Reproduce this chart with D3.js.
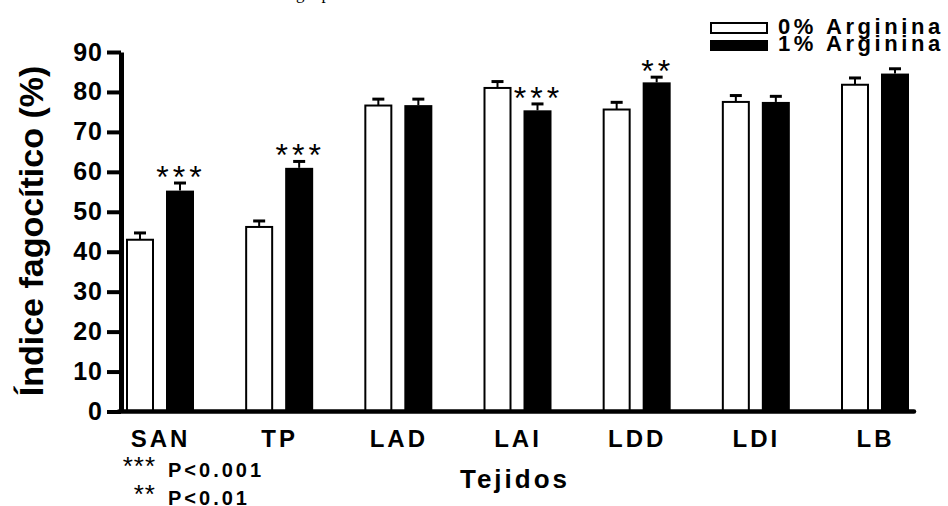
<!DOCTYPE html>
<html>
<head>
<meta charset="utf-8">
<script src="https://cdn.jsdelivr.net/npm/d3@7"></script>
<style>
    body { margin: 0; background: #fff; }
    svg { display: block; font-family: "Liberation Sans", Arial, sans-serif; }
</style>
</head>
<body>
<svg width="948" height="506"></svg>
<script>
// values
const tejidos = ["SAN", "TP", "LAD", "LAI", "LDD", "LDI", "LB"];
const arginina0 = [43.0, 46.2, 76.6, 81.0, 75.6, 77.5, 81.8];
const arginina0Err = [1.7, 1.5, 1.6, 1.6, 1.8, 1.6, 1.7];
const arginina1 = [55.3, 61.0, 76.7, 75.4, 82.4, 77.5, 84.6];
const arginina1Err = [1.9, 1.6, 1.5, 1.6, 1.3, 1.4, 1.2];
const signif = ["***", "***", "", "***", "**", "", ""];
const yTicks = [0, 10, 20, 30, 40, 50, 60, 70, 80, 90];
const legendLabels = ["0% Arginina", "1% Arginina"];
const footnotes = [["***", "P<0.001"], ["**", "P<0.01"]];

let svg = d3.select("svg");

let x = d3.scalePoint()
    .domain(tejidos)
    .range([160, 875]);

let y = d3.scaleLinear()
    .domain([0, 90])
    .range([411.5, 52]);

let rows = tejidos.map((t, i) => ({
    t: t,
    v0: arginina0[i], e0: arginina0Err[i],
    v1: arginina1[i], e1: arginina1Err[i],
    sig: signif[i]
}));

// cut-off caption line from the page above
svg.append("text")
    .attr("x", 296).attr("y", -1)
    .attr("font-family", "Liberation Serif, serif")
    .attr("font-size", 17)
    .attr("xml:space", "preserve")
    .text("g    p");

// bars
let group = svg.append("g").attr("class", "bars")
    .selectAll("g")
    .data(rows)
    .enter().append("g");

group.append("rect")
    .attr("x", d => x(d.t) - 33)
    .attr("width", 26)
    .attr("y", d => y(d.v0))
    .attr("height", d => y(0) - y(d.v0))
    .attr("fill", "#fff")
    .attr("stroke", "#000")
    .attr("stroke-width", 2);

group.append("rect")
    .attr("x", d => x(d.t) + 6)
    .attr("width", 28)
    .attr("y", d => y(d.v1))
    .attr("height", d => y(0) - y(d.v1))
    .attr("fill", "#000");

// error bars (upper only)
function errorBar(sel, cx, val, err) {
    sel.append("line")
        .attr("x1", cx).attr("x2", cx)
        .attr("y1", d => y(val(d))).attr("y2", d => y(val(d) + err(d)))
        .attr("stroke", "#000").attr("stroke-width", 2);
    sel.append("line")
        .attr("x1", d => cx(d) - 6).attr("x2", d => cx(d) + 6)
        .attr("y1", d => y(val(d) + err(d))).attr("y2", d => y(val(d) + err(d)))
        .attr("stroke", "#000").attr("stroke-width", 3);
}
errorBar(group, d => x(d.t) - 20, d => d.v0, d => d.e0);
errorBar(group, d => x(d.t) + 20, d => d.v1, d => d.e1);

// significance stars
group.append("text")
    .attr("x", d => x(d.t) + 21)
    .attr("y", d => y(d.v1 + d.e1) + 5)
    .attr("text-anchor", "middle")
    .attr("font-size", 32)
    .attr("letter-spacing", 4)
    .text(d => d.sig);

// axes
let yAxis = svg.append("g")
    .attr("transform", "translate(121,0)")
    .call(d3.axisLeft(y).tickValues(yTicks).tickSize(14).tickSizeOuter(0).tickPadding(4));

yAxis.select(".domain").attr("stroke-width", 5);
yAxis.selectAll(".tick line").attr("stroke-width", 4);
yAxis.selectAll(".tick text")
    .attr("font-size", 25)
    .attr("font-weight", "bold")
    .attr("letter-spacing", 1)
    .attr("fill", "#000");

svg.append("line")
    .attr("x1", 119).attr("x2", 914)
    .attr("y1", y(0)).attr("y2", y(0))
    .attr("stroke", "#000")
    .attr("stroke-width", 4.5)
    .attr("stroke-linecap", "round");

let xAxis = svg.append("g")
    .attr("transform", `translate(0,${y(0)})`)
    .call(d3.axisBottom(x).tickSize(0).tickPadding(18));

xAxis.select(".domain").remove();
xAxis.selectAll(".tick text")
    .attr("font-size", 24)
    .attr("font-weight", "bold")
    .attr("letter-spacing", 3)
    .attr("fill", "#000");

// axis titles
svg.append("text")
    .attr("transform", "translate(43,231) rotate(-90)")
    .attr("text-anchor", "middle")
    .attr("font-size", 34)
    .attr("font-weight", "bold")
    .text("Índice fagocítico (%)");

svg.append("text")
    .attr("x", 515).attr("y", 488)
    .attr("text-anchor", "middle")
    .attr("font-size", 26)
    .attr("font-weight", "bold")
    .attr("letter-spacing", 3)
    .text("Tejidos");

// legend
let legend = svg.append("g").attr("class", "legend")
    .selectAll("g")
    .data(legendLabels)
    .enter().append("g")
    .attr("transform", (d, i) => `translate(710,${23 + i * 17})`);

legend.append("rect")
    .attr("x", (d, i) => i ? 0 : 1)
    .attr("width", (d, i) => i ? 58 : 56)
    .attr("height", (d, i) => i ? 11 : 10)
    .attr("fill", (d, i) => i ? "#000" : "#fff")
    .attr("stroke", (d, i) => i ? "none" : "#000")
    .attr("stroke-width", 2);

legend.append("text")
    .attr("x", 68).attr("y", 10.5)
    .attr("font-size", 22)
    .attr("font-weight", "bold")
    .attr("letter-spacing", 3.6)
    .text(d => d);

// footnote
let notes = svg.append("g").selectAll("g")
    .data(footnotes)
    .enter().append("g")
    .attr("transform", (d, i) => `translate(0,${477 + i * 28})`);

notes.append("text")
    .attr("x", 156).attr("y", -2)
    .attr("text-anchor", "end")
    .attr("font-size", 26)
    .attr("letter-spacing", 1)
    .text(d => d[0]);

notes.append("text")
    .attr("x", 168).attr("y", 0)
    .attr("font-size", 20)
    .attr("font-weight", "bold")
    .attr("letter-spacing", 3)
    .text(d => d[1]);
</script>
</body>
</html>
